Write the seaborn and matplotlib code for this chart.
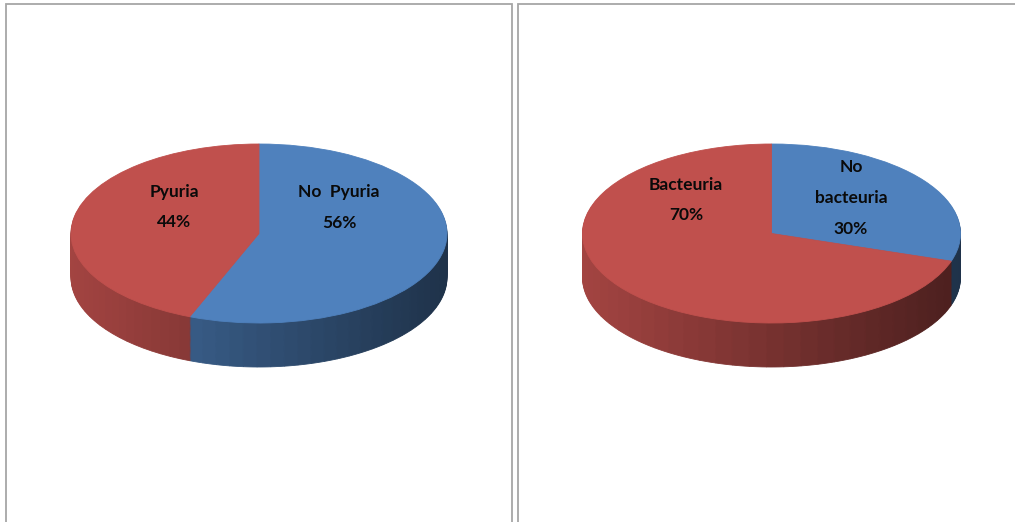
import numpy as np
import matplotlib
matplotlib.use("Agg")
import matplotlib.pyplot as plt
import seaborn as sns
from matplotlib.patches import Rectangle
from matplotlib.colors import to_rgb

# ---- data ----
left_labels = ["No  Pyuria", "Pyuria"]
left_values = [56, 44]
right_labels = ["No\nbacteuria", "Bacteuria"]
right_values = [30, 70]
slice_colors = ["#4f81bd", "#c0504d"]

sns.set_theme(style="white")
plt.rcParams["font.family"] = ["Lato", "DejaVu Sans"]

W_PX, H_PX = 1015, 522
fig = plt.figure(figsize=(W_PX / 100, H_PX / 100), dpi=100)
fig.patch.set_facecolor("white")


def shade(rgb, f):
    return tuple(max(0, min(1, c * f)) for c in rgb)


def pie3d(cx, cy, a, b, depth, values, colors, text_items):
    axw, axh = 480, 440
    ax = fig.add_axes([(cx - axw / 2) / W_PX, (H_PX - cy - axh / 2) / H_PX,
                       axw / W_PX, axh / H_PX])
    total = float(sum(values))
    nsub = 48
    # side: subdivide each slice, shade by horizontal position
    sub_vals, sub_cols = [], []
    cum = 0.0
    for v, c in zip(values, colors):
        rgb = to_rgb(c)
        for k in range(nsub):
            frac = (cum + (k + 0.5) * v / nsub) / total
            theta = np.deg2rad(90 - frac * 360)
            x = np.cos(theta)
            f = 0.62 - 0.23 * x
            sub_vals.append(v / nsub)
            sub_cols.append(shade(rgb, f))
        cum += v
    d = depth / b
    nlayers = 40
    for j in range(nlayers, 0, -1):
        wedges, _ = ax.pie(sub_vals, colors=sub_cols, startangle=90,
                           counterclock=False, center=(0, -d * j / nlayers),
                           radius=1, frame=True)
        for w in wedges:
            w.set_edgecolor(w.get_facecolor())
            w.set_linewidth(0.6)
    wedges, _ = ax.pie(values, colors=colors, startangle=90,
                       counterclock=False, center=(0, 0), radius=1, frame=True)
    for w in wedges:
        w.set_edgecolor(w.get_facecolor())
        w.set_linewidth(0.6)
    ax.set_aspect("auto")
    ax.set_xlim(-axw / 2 / a, axw / 2 / a)
    ax.set_ylim(-axh / 2 / b, axh / 2 / b)
    ax.axis("off")
    for (px, py, s) in text_items:
        ax.text((px - cx) / a, (cy - py) / b, s, ha="center", va="center",
                fontsize=12.5, fontweight="bold", color="#0a0a0a",
                linespacing=2.15)
    return ax


# left pie
pie3d(259, 233.5, 188, 89.5, 44, left_values, slice_colors,
      [(174, 207, left_labels[1] + "\n" + f"{left_values[1]}%"),
       (339, 207.5, left_labels[0] + "\n" + f"{left_values[0]}%")])

# right pie
pie3d(771.5, 233.5, 189, 89.5, 44, right_values, slice_colors,
      [(686, 200, right_labels[1] + "\n" + f"{right_values[1]}%"),
       (851, 198, right_labels[0] + "\n" + f"{right_values[0]}%")])

# panel borders
for x0, x1 in [(6, 512), (518, 1030)]:
    fig.add_artist(Rectangle((x0 / W_PX, -20 / H_PX), (x1 - x0) / W_PX,
                             (H_PX - 4 + 20) / H_PX, transform=fig.transFigure,
                             fill=False, edgecolor="#a6a6a6", linewidth=1.3))

fig.savefig("out.png", dpi=100, facecolor="white")
